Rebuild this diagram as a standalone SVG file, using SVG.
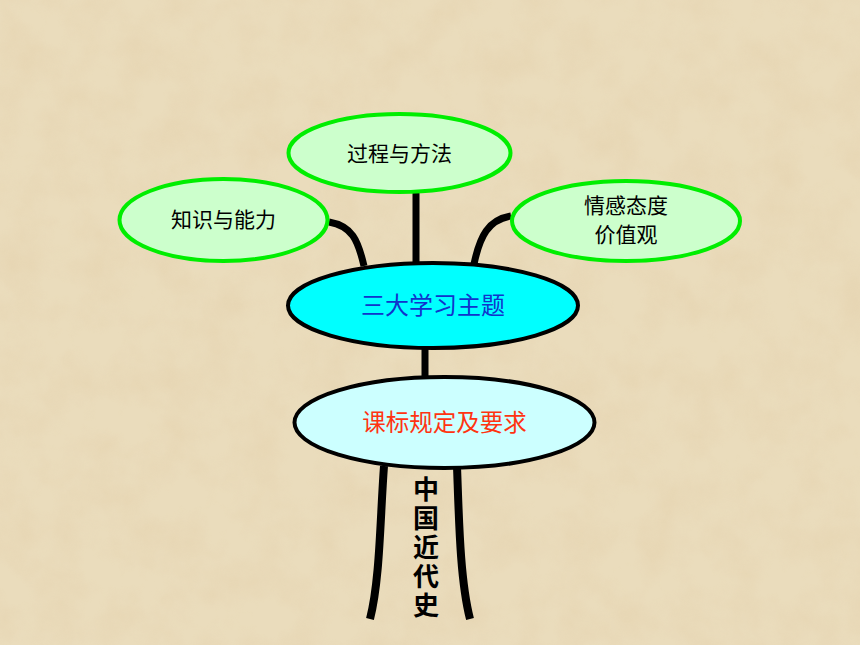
<svg xmlns="http://www.w3.org/2000/svg" width="860" height="645" viewBox="0 0 860 645">
<defs>
<filter id="paper" x="0" y="0" width="100%" height="100%">
<feTurbulence type="fractalNoise" baseFrequency="0.025" numOctaves="4" seed="3"/>
<feColorMatrix type="matrix" values="0 0 0 0 0.78  0 0 0 0 0.64  0 0 0 0 0.42  1.4 0 0 0 -0.5"/>
</filter>
<style>
text{font-family:"Liberation Sans","Noto Sans CJK SC",sans-serif;text-anchor:middle;dominant-baseline:central}
.g{fill:#CCFFCC;stroke:#00EE00;stroke-width:4}
.b{stroke:#000;stroke-width:4}
.c{fill:none;stroke:#000;stroke-width:7;stroke-linecap:butt}
.t{font-size:21px;fill:#000}
.v{font-size:26px;font-weight:bold;fill:#000}
</style>
</defs>
<rect width="860" height="645" fill="#EADCBC"/>
<rect width="860" height="645" filter="url(#paper)" opacity="0.7"/>
<g id="connectors">
<path class="c" d="M416,193 L416,264"/>
<path class="c" d="M329,222 C352,226 358,240 364,266"/>
<path class="c" d="M511,216 C488,220 480,236 474,264"/>
<path class="c" d="M425,349 L425,378"/>
<path class="c" style="stroke-width:8" d="M384,466 C380,520 380,580 370,619"/>
<path class="c" style="stroke-width:8" d="M457,466 C459,520 460,580 470,619"/>
</g>
<g id="n-process">
<ellipse class="g" cx="399.5" cy="153" rx="111" ry="39"/>
<text class="t" x="399.5" y="153">过程与方法</text>
</g>
<g id="n-knowledge">
<ellipse class="g" cx="223.5" cy="220" rx="104" ry="41"/>
<text class="t" x="223.5" y="219">知识与能力</text>
</g>
<g id="n-emotion">
<ellipse class="g" cx="626" cy="221" rx="114" ry="40"/>
<text class="t" x="626" y="205">情感态度</text>
<text class="t" x="626" y="234">价值观</text>
</g>
<g id="n-themes">
<ellipse class="b" fill="#00FFFF" cx="433" cy="305.5" rx="145" ry="42.5"/>
<text x="433" y="305" font-size="24" fill="#1133CC">三大学习主题</text>
</g>
<g id="n-standard">
<ellipse class="b" fill="#CCFFFF" cx="444.5" cy="422.5" rx="150" ry="45.5"/>
<text x="444.5" y="423" font-size="23.5" fill="#FF3311">课标规定及要求</text>
</g>
<g id="n-history">
<text class="v" x="426" y="490">中</text>
<text class="v" x="426" y="519">国</text>
<text class="v" x="426" y="548">近</text>
<text class="v" x="426" y="577">代</text>
<text class="v" x="426" y="606">史</text>
</g>
</svg>
